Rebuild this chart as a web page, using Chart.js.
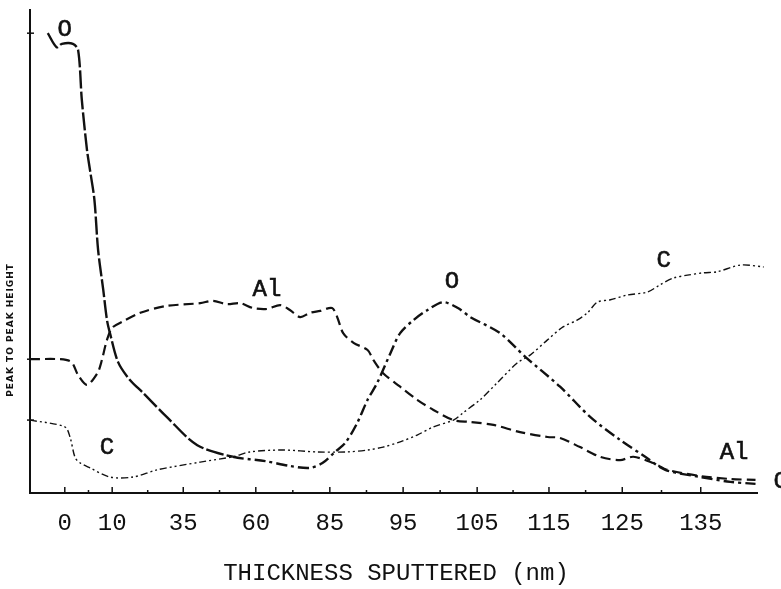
<!DOCTYPE html>
<html>
<head>
<meta charset="utf-8">
<title>Thickness sputtered profile</title>
<script src="https://cdn.jsdelivr.net/npm/chart.js@4.4.1/dist/chart.umd.min.js"></script>
<style>
html,body{margin:0;padding:0;background:#ffffff;}
#wrap{width:781px;height:589px;position:relative;}
</style>
</head>
<body>
<div id="wrap"><canvas id="profileChart"></canvas></div>
<script>
// =========================================
// Data (x = position along the axis; the typed tick labels are not evenly placed)
// =========================================

const tickLabels = ["0","10","35","60","85","95","105","115","125","135"];
const tickPositions = [0.01,0.65,1.61,2.59,3.59,4.58,5.58,6.55,7.54,8.60];

const oxygenX = [-0.22,-0.10,-0.03,0.12,0.19,0.24,0.31,0.35,0.41,0.46,0.53,0.58,0.62,0.73,0.89,1.07,1.39,1.80,2.28,2.72,3.05,3.32,3.49,3.66,3.80,3.96,4.10,4.23,4.41,4.54,4.72,4.91,5.12,5.32,5.49,5.89,6.23,6.70,7.11,7.51,7.85,8.12,8.60,9.00,9.34];
const oxygenY = [95.2,92.3,93.0,93.0,91.7,81.4,71.0,66.9,60.7,50.3,42.0,35.8,33.1,27.1,23.4,20.7,15.7,9.9,7.5,6.6,5.6,5.2,6.2,8.5,10.4,14.5,19.3,22.8,29.0,33.1,35.8,37.9,39.5,38.3,36.4,33.1,28.2,22.0,15.7,11.0,7.5,4.8,3.3,2.3,1.9];

const aluminumX = [-0.46,-0.05,0.10,0.19,0.31,0.45,0.50,0.58,0.65,0.78,1.03,1.37,1.84,2.01,2.20,2.38,2.55,2.74,2.92,3.05,3.19,3.32,3.46,3.62,3.69,3.77,3.91,4.10,4.18,4.31,4.54,4.77,4.99,5.26,5.49,5.80,6.16,6.53,6.70,6.97,7.24,7.51,7.69,7.96,8.15,8.60,9.00,9.34];
const aluminumY = [27.7,27.7,27.1,24.4,22.4,24.8,26.9,31.7,34.2,35.4,37.3,38.7,39.3,39.8,39.1,39.3,38.3,38.1,38.9,37.9,36.4,37.3,37.7,38.3,36.4,33.1,31.1,29.6,27.5,24.8,22.0,19.3,17.2,15.1,14.7,14.1,12.6,11.6,11.4,9.5,7.5,6.8,7.5,6.2,4.8,3.5,2.9,2.7];

const carbonX = [-0.46,0.01,0.08,0.15,0.22,0.35,0.62,0.93,1.26,1.84,2.28,2.51,2.96,3.42,3.82,4.10,4.31,4.54,4.77,4.99,5.26,5.39,5.62,5.85,6.12,6.30,6.53,6.74,6.93,7.07,7.20,7.38,7.61,7.88,8.05,8.23,8.42,8.64,8.82,9.14,9.45];
const carbonY = [15.1,13.7,11.6,7.3,6.2,5.2,3.3,3.3,4.8,6.4,7.5,8.5,8.9,8.5,8.5,8.9,9.5,10.6,12.0,13.7,15.1,16.6,19.3,22.8,26.9,28.6,31.7,34.4,35.8,37.3,39.5,40.0,41.0,41.6,43.1,44.5,45.1,45.6,45.8,47.2,46.8];

const curveLabels = [
    {text:"O",  x:0.01, y:95.9},
    {text:"Al", x:2.74, y:42.0},
    {text:"O",  x:5.24, y:43.7},
    {text:"C",  x:8.10, y:48.2},
    {text:"Al", x:9.05, y:8.3},
    {text:"C",  x:0.58, y:9.3},
    {text:"C",  x:9.68, y:2.3}
];

const yAxisMarks = [95.2,27.7,15.1];

const ink = "#111111";

function toPoints(xs,ys){
    return xs.map((x,i)=>({x:x,y:ys[i]}));
}

// =========================================
// Plugins: axis marks and lettering
// =========================================

const lettering = {
    id:"lettering",
    afterDraw(chart){
        const ctx = chart.ctx;
        const xs = chart.scales.x;
        const ys = chart.scales.y;
        const area = chart.chartArea;

        ctx.save();
        ctx.strokeStyle = ink;
        ctx.fillStyle = ink;

        // small tick marks on the x axis
        ctx.lineWidth = 1.5;
        tickPositions.forEach((p,i)=>{
            const px = xs.getPixelForValue(p);
            ctx.beginPath();
            ctx.moveTo(px,area.bottom);
            ctx.lineTo(px,area.bottom-6);
            ctx.stroke();
            if(i < tickPositions.length-1){
                const mx = xs.getPixelForValue((p+tickPositions[i+1])/2);
                ctx.beginPath();
                ctx.moveTo(mx,area.bottom);
                ctx.lineTo(mx,area.bottom-3);
                ctx.stroke();
            }
        });

        // small marks on the y axis
        yAxisMarks.forEach(v=>{
            const py = ys.getPixelForValue(v);
            ctx.beginPath();
            ctx.moveTo(area.left-3,py);
            ctx.lineTo(area.left+4,py);
            ctx.stroke();
        });

        // curve labels
        ctx.font = "24px 'Liberation Mono'";
        ctx.textAlign = "center";
        ctx.textBaseline = "middle";
        ctx.lineWidth = 0.6;
        curveLabels.forEach(l=>{
            const px = xs.getPixelForValue(l.x);
            const py = ys.getPixelForValue(l.y);
            ctx.fillText(l.text,px,py);
            ctx.strokeText(l.text,px,py);
        });

        // x axis title
        ctx.font = "24px 'Liberation Mono'";
        ctx.fillText("THICKNESS SPUTTERED (nm)",396,574);

        // y axis title
        ctx.translate(11,330);
        ctx.rotate(-Math.PI/2);
        ctx.font = "bold 9px 'DejaVu Sans'";
        ctx.letterSpacing = "1px";
        ctx.fillText("PEAK TO PEAK HEIGHT",0,0);

        ctx.restore();
    }
};

// =========================================
// Chart
// =========================================

new Chart(document.getElementById("profileChart"),{

    type:"line",

    data:{
        datasets:[
            {
                label:"O",
                data:toPoints(oxygenX,oxygenY),
                borderColor:ink,
                borderWidth:2.4,
                tension:.3,
                pointRadius:0,
                clip:false,
                segment:{
                    borderDash:ctx => ctx.p0.parsed.x < 2 ? [18,3] : [11,4,3,4]
                }
            },
            {
                label:"Al",
                data:toPoints(aluminumX,aluminumY),
                borderColor:ink,
                borderWidth:2.2,
                borderDash:[10,5],
                tension:.3,
                pointRadius:0,
                clip:false
            },
            {
                label:"C",
                data:toPoints(carbonX,carbonY),
                borderColor:ink,
                borderWidth:1.4,
                borderDash:[7,3,2,3,2,3],
                tension:.3,
                pointRadius:0,
                clip:false
            }
        ]
    },

    options:{
        responsive:true,
        maintainAspectRatio:false,
        animation:false,
        layout:{padding:{top:10,right:24,left:0,bottom:0}},
        plugins:{
            legend:{display:false},
            tooltip:{enabled:false}
        },
        scales:{
            x:{
                type:"linear",
                min:-0.46,
                max:9.36,
                afterFit(scale){ scale.height = 96; },
                afterBuildTicks(scale){
                    scale.ticks = tickPositions.map(p=>({value:p}));
                },
                ticks:{
                    callback:(v,i) => tickLabels[i],
                    font:{family:"Liberation Mono",size:24},
                    color:ink,
                    padding:8,
                    autoSkip:false,
                    maxRotation:0
                },
                grid:{display:false},
                border:{display:true,color:ink,width:2}
            },
            y:{
                min:0,
                max:100,
                afterFit(scale){ scale.width = 30; },
                ticks:{display:false},
                grid:{display:false},
                border:{display:true,color:ink,width:2}
            }
        }
    },

    plugins:[lettering]

});
</script>
</body>
</html>
